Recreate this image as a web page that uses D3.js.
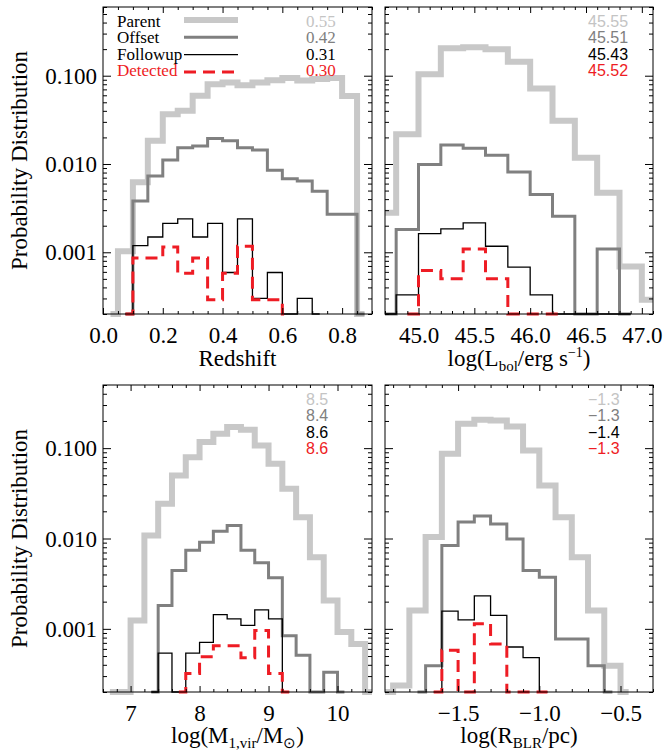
<!DOCTYPE html>
<html><head><meta charset="utf-8">
<script src="https://cdn.jsdelivr.net/npm/d3@7"></script>
<style>body{margin:0;background:#fff;} svg{display:block;}</style>
</head><body>
<svg id="c" width="663" height="753"></svg>
<script>
// ---------------- DATA ----------------
const seriesNames = ["Parent", "Offset", "Followup", "Detected"];

// Redshift (bin centers, width 0.05)
const zCenters   = [0.025,0.075,0.125,0.175,0.225,0.275,0.325,0.375,0.425,0.475,0.525,0.575,0.625,0.675,0.725,0.775,0.825,0.875];
const zParent    = [0,0.00103,0.0062,0.0183,0.0367,0.040,0.0593,0.080,0.084,0.078,0.084,0.089,0.094,0.088,0.092,0.094,0.059,0];
const zOffset    = [null,0,0.0038,0.0073,0.0111,0.0153,0.016,0.0194,0.0183,0.0153,0.0144,0.0085,0.0068,0.0064,0.0049,0.0027,0.0027,0];
const zFollowup  = [null,0,0.00119,0.00149,0.00212,0.00239,0.00149,0.00212,0.00059,0.00239,0.0003,0.00059,0,0.0003,0,null,null,null];
const zDetected  = [null,0,0.00086,0.00086,0.00115,0.00058,0.00086,0.00029,0.00058,0.00117,0.00029,0.00029,0,null,null,null,null,null];
const zMedians   = ["0.55","0.42","0.31","0.30"];
const zTicks     = [0.0,0.2,0.4,0.6,0.8];

// log(Lbol) (bin centers, width 0.2)
const lCenters   = [44.7,44.9,45.1,45.3,45.5,45.7,45.9,46.1,46.3,46.5,46.7,46.9,47.1];
const lParent    = [0.0028,0.0217,0.104,0.205,0.21,0.20,0.144,0.0718,0.0308,0.0118,0.00472,0.00069,0.00029];
const lOffset    = [0,0.00181,0.0099,0.0164,0.0151,0.0126,0.0081,0.0045,0.00256,0,0.00109,0,null];
const lFollowup  = [0,0.00033,0.00163,0.00184,0.00215,0.00117,0.00068,0.00033,0,0,0,0,null];
const lDetected  = [null,0,0.00062,0.0005,0.00109,0.0005,0,0,0,null,null,null,null];
const lMedians   = ["45.55","45.51","45.43","45.52"];
const lTicks     = [45.0,45.5,46.0,46.5,47.0];

// log(M1,vir) (bin centers, width 0.2)
const mCenters   = [6.7,6.9,7.1,7.3,7.5,7.7,7.9,8.1,8.3,8.5,8.7,8.9,9.1,9.3,9.5,9.7,9.9,10.1,10.3,10.5];
const mParent    = [0,0,0.00124,0.0108,0.0242,0.0497,0.0795,0.117,0.144,0.171,0.16,0.107,0.067,0.0355,0.0172,0.0062,0.00206,0.00092,0.00068,0];
const mOffset    = [null,null,null,0,0.00181,0.00443,0.0074,0.0091,0.012,0.0139,0.0074,0.0054,0.00367,0.00084,0.00051,0,0.00033,0,null,null];
const mFollowup  = [null,null,null,0,0.00054,0,0.00054,0.00071,0.00144,0.00129,0.00109,0.00162,0.00129,0,null,null,null,null,null,null];
const mDetected  = [null,null,null,null,null,0,0.00032,0.00049,0.00065,0.00065,0.00048,0.00096,0.00032,0,null,null,null,null,null,null];
const mMedians   = ["8.5","8.4","8.6","8.6"];
const mTicks     = [7,8,9,10];

// log(R_BLR) (bin centers, width 0.1)
const rCenters   = [-1.95,-1.85,-1.75,-1.65,-1.55,-1.45,-1.35,-1.25,-1.15,-1.05,-0.95,-0.85,-0.75,-0.65,-0.55,-0.45];
const rParent    = [0,0.000236,0.0016,0.0104,0.0865,0.186,0.206,0.202,0.174,0.094,0.0386,0.0172,0.0062,0.0016,0.00039,0];
const rOffset    = [null,null,0,0.00039,0.00837,0.0152,0.0177,0.0145,0.0099,0.00443,0.00373,0.00077,0.00077,0.00039,0,null];
const rFollowup  = [null,null,null,0,0.00157,0.00126,0.00232,0.00141,0.00063,0.00048,0,null,null,null,null,null];
const rDetected  = [null,null,null,0,0.00058,0,0.00114,0.00068,0,0,0,null,null,null,null,null];
const rMedians   = ["\u22121.3","\u22121.3","\u22121.4","\u22121.3"];
const rTicks     = [-1.5,-1.0,-0.5];

const yMajorTicks = [0.001, 0.01, 0.1];

// ---------------- STYLE ----------------
const colors = ["#c8c8c8", "#808080", "#000000", "#ee1c24"];
const widths = [6, 3, 1.3, 3];
const dashes = [null, null, null, "12,7"];
const SERIF = "'Liberation Serif','Times New Roman',Times,serif";
const SANS = "'Liberation Sans',Arial,Helvetica,sans-serif";

const svg = d3.select("#c");
const defs = svg.append("defs");

function fmtMinus(s){ return s.replace("-", "\u2212"); }

function panel(cfg) {
  const {id, x0, x1, y0, y1, xDomain, yDomain, centers, series, xTicks, xMinorStep, xFmt,
         yLabels, medians, medFont, medSize, legend} = cfg;
  const x = d3.scaleLinear().domain(xDomain).range([x0, x1]);
  const y = d3.scaleLog().domain(yDomain).range([y1, y0]);

  defs.append("clipPath").attr("id", "clip" + id)
    .append("rect").attr("x", x0).attr("y", y0 - 10).attr("width", x1 - x0).attr("height", y1 - y0 + 20);

  const g = svg.append("g");
  const line = d3.line()
    .defined(d => d.v !== null)
    .x(d => x(d.c))
    .y(d => y(Math.max(d.v, yDomain[0])))
    .curve(d3.curveStep);

  series.forEach((s, i) => {
    const pts = centers.map((c, j) => ({c: c, v: s[j]}));
    g.append("path")
      .attr("d", line(pts))
      .attr("fill", "none")
      .attr("stroke", colors[i])
      .attr("stroke-width", widths[i])
      .attr("stroke-dasharray", dashes[i])
      .attr("stroke-linejoin", "miter")
      .attr("stroke-linecap", "butt")
      .attr("clip-path", `url(#clip${id})`);
  });

  // minor ticks
  const xMinor = [];
  const start = Math.ceil((xDomain[0] - 1e-9) / xMinorStep) * xMinorStep;
  for (let v = start; v <= xDomain[1] + 1e-9; v += xMinorStep) xMinor.push(+v.toFixed(6));
  const xMinorOnly = xMinor.filter(v => !xTicks.some(t => Math.abs(t - v) < 1e-6));
  const yMinor = y.ticks().filter(v => !yMajorTicks.some(t => Math.abs(t - v) / t < 1e-6));

  const axG = svg.append("g").attr("fill", "none");
  function styleAxis(sel) {
    sel.select(".domain").remove();
    sel.selectAll("line").attr("stroke", "#000").attr("stroke-width", 1);
    sel.attr("font-family", SERIF).attr("font-size", 23);
    sel.selectAll("text").attr("fill", "#000");
  }
  // bottom
  axG.append("g").attr("transform", `translate(0,${y1})`)
    .call(d3.axisBottom(x).tickValues(xTicks).tickSize(-6).tickFormat(xFmt))
    .call(styleAxis)
    .call(s => s.selectAll("text").attr("y", 28.5).attr("dy", 0));
  axG.append("g").attr("transform", `translate(0,${y1})`)
    .call(d3.axisBottom(x).tickValues(xMinorOnly).tickSize(-3).tickFormat(""))
    .call(styleAxis);
  // top
  axG.append("g").attr("transform", `translate(0,${y0})`)
    .call(d3.axisTop(x).tickValues(xTicks).tickSize(-6).tickFormat(""))
    .call(styleAxis);
  axG.append("g").attr("transform", `translate(0,${y0})`)
    .call(d3.axisTop(x).tickValues(xMinorOnly).tickSize(-3).tickFormat(""))
    .call(styleAxis);
  // left
  axG.append("g").attr("transform", `translate(${x0},0)`)
    .call(d3.axisLeft(y).tickValues(yMajorTicks).tickSize(-8).tickPadding(6)
      .tickFormat(yLabels ? d3.format(".3f") : ""))
    .call(styleAxis)
    .call(s => s.selectAll("text").attr("dy", "0.33em"));
  axG.append("g").attr("transform", `translate(${x0},0)`)
    .call(d3.axisLeft(y).tickValues(yMinor).tickSize(-4).tickFormat(""))
    .call(styleAxis);
  // right
  axG.append("g").attr("transform", `translate(${x1},0)`)
    .call(d3.axisRight(y).tickValues(yMajorTicks).tickSize(-8).tickFormat(""))
    .call(styleAxis);
  axG.append("g").attr("transform", `translate(${x1},0)`)
    .call(d3.axisRight(y).tickValues(yMinor).tickSize(-4).tickFormat(""))
    .call(styleAxis);

  // frame
  svg.append("rect").attr("x", x0).attr("y", y0).attr("width", x1 - x0).attr("height", y1 - y0)
    .attr("fill", "none").attr("stroke", "#000").attr("stroke-width", 1);

  // medians
  medians.forEach((m, i) => {
    svg.append("text").attr("x", x0 + 203).attr("y", y0 + 19.5 + 16.5 * i)
      .attr("font-family", medFont).attr("font-size", medSize)
      .attr("fill", colors[i] === "#c8c8c8" ? "#c4c4c4" : colors[i]).text(m);
  });

  // legend
  if (legend) {
    seriesNames.forEach((n, i) => {
      svg.append("text").attr("x", x0 + 14).attr("y", y0 + 19.5 + 16.5 * i)
        .attr("font-family", SERIF).attr("font-size", 17)
        .attr("fill", i === 3 ? colors[3] : "#000").text(n);
      const ly = y0 + 13 + 17.3 * i;
      svg.append("line").attr("x1", x0 + 81).attr("x2", x0 + 135).attr("y1", ly).attr("y2", ly)
        .attr("stroke", colors[i]).attr("stroke-width", widths[i])
        .attr("stroke-dasharray", dashes[i]);
    });
  }

  // y title
  if (yLabels) {
    svg.append("text")
      .attr("transform", `translate(26.5,${(y0 + y1) / 2}) rotate(-90)`)
      .attr("text-anchor", "middle")
      .attr("font-family", SERIF).attr("font-size", 23).attr("fill", "#000")
      .text("Probability Distribution");
  }
  return {x, y};
}

function xTitle(cx, by, parts) {
  const t = svg.append("text").attr("x", cx).attr("y", by).attr("text-anchor", "middle")
    .attr("font-family", SERIF).attr("font-size", 23).attr("fill", "#000");
  parts.forEach(p => {
    const ts = t.append("tspan").text(p.t);
    if (p.dy) ts.attr("dy", p.dy);
    if (p.fs) ts.attr("font-size", p.fs);
  });
}

const fmt1 = v => fmtMinus(d3.format(".1f")(v));
const fmt0 = v => d3.format("d")(v);

panel({id: "z", x0: 103, x1: 372, y0: 7, y1: 314, xDomain: [0, 0.9], yDomain: [2e-4, 0.6],
  centers: zCenters, series: [zParent, zOffset, zFollowup, zDetected],
  xTicks: zTicks, xMinorStep: 0.05, xFmt: fmt1, yLabels: true,
  medians: zMedians, medFont: SERIF, medSize: 17, legend: true});

panel({id: "l", x0: 385, x1: 653, y0: 7, y1: 314, xDomain: [44.7, 47.1], yDomain: [2e-4, 0.6],
  centers: lCenters, series: [lParent, lOffset, lFollowup, lDetected],
  xTicks: lTicks, xMinorStep: 0.1, xFmt: fmt1, yLabels: false,
  medians: lMedians, medFont: SANS, medSize: 16, legend: false});

panel({id: "m", x0: 103, x1: 372, y0: 385, y1: 692, xDomain: [6.6, 10.5], yDomain: [2e-4, 0.5],
  centers: mCenters, series: [mParent, mOffset, mFollowup, mDetected],
  xTicks: mTicks, xMinorStep: 0.2, xFmt: fmt0, yLabels: true,
  medians: mMedians, medFont: SANS, medSize: 16, legend: false});

panel({id: "r", x0: 385, x1: 653, y0: 385, y1: 692, xDomain: [-1.95, -0.3], yDomain: [2e-4, 0.5],
  centers: rCenters, series: [rParent, rOffset, rFollowup, rDetected],
  xTicks: rTicks, xMinorStep: 0.1, xFmt: fmt1, yLabels: false,
  medians: rMedians, medFont: SANS, medSize: 16, legend: false});

xTitle(237.5, 366, [{t: "Redshift"}]);
xTitle(519, 366, [{t: "log(L"}, {t: "bol", dy: 5, fs: 15}, {t: "/erg s", dy: -5}, {t: "\u22121", dy: -9, fs: 14}, {t: ")", dy: 9}]);
xTitle(237.5, 743, [{t: "log(M"}, {t: "1,vir", dy: 5, fs: 15}, {t: "/M", dy: -5}, {t: "\u2299", dy: 5, fs: 15}, {t: ")", dy: -5}]);
xTitle(519, 743, [{t: "log(R"}, {t: "BLR", dy: 5, fs: 15}, {t: "/pc)", dy: -5}]);
</script>
</body></html>
